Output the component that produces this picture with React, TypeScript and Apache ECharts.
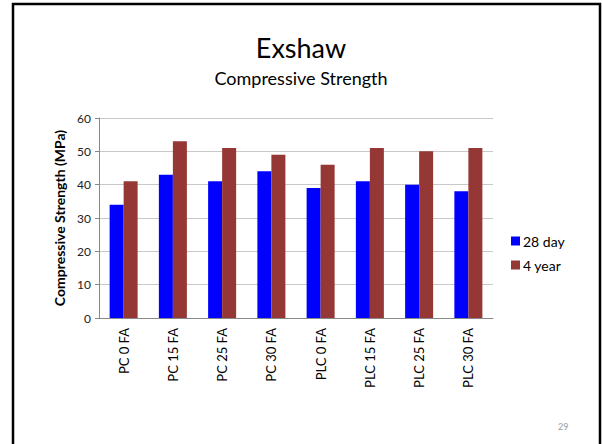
import React, { useEffect, useRef } from "react";
import * as echarts from "echarts";

const categories = ["PC 0 FA", "PC 15 FA", "PC 25 FA", "PC 30 FA", "PLC 0 FA", "PLC 15 FA", "PLC 25 FA", "PLC 30 FA"];
const day28 = [34, 43, 41, 44, 39, 41, 40, 38];
const year4 = [41, 53, 51, 49, 46, 51, 50, 51];
const seriesNames = ["28 day", "4 year"];
const yTicks = { min: 0, max: 60, interval: 10 };

export default function App() {
  const ref = useRef<HTMLDivElement>(null);
  useEffect(() => {
    if (!ref.current) return;
    const chart = echarts.init(ref.current, null, { renderer: "svg" });
    const font = "Lato, 'Open Sans', sans-serif";
    chart.setOption({
      animation: false,
      backgroundColor: "#ffffff",
      textStyle: { fontFamily: font },
      title: [
        {
          text: "Exshaw",
          left: "center",
          top: 29,
          textStyle: { fontFamily: font, fontSize: 27, fontWeight: "normal", color: "#000" },
        },
        {
          text: "Compressive Strength",
          left: "center",
          top: 64,
          textStyle: { fontFamily: font, fontSize: 18, fontWeight: "normal", color: "#000" },
        },
      ],
      graphic: [
        {
          type: "rect",
          shape: { x: 13, y: 4, width: 587, height: 460 },
          style: { fill: "none", stroke: "#000", lineWidth: 2.5 },
          silent: true,
        },
        {
          type: "text",
          left: 558,
          top: 422,
          style: { text: "29", fill: "#999", fontSize: 9, fontFamily: font },
        },
      ],
      legend: {
        orient: "vertical",
        left: 506,
        top: 229,
        itemWidth: 9,
        itemHeight: 9,
        itemGap: 10,
        icon: "rect",
        data: seriesNames,
        textStyle: { fontFamily: font, fontSize: 14, color: "#000", padding: [0, 0, 0, -2] },
      },
      grid: { left: 99, right: 109, top: 118, bottom: 126 },
      xAxis: {
        type: "category",
        data: categories,
        axisLine: { lineStyle: { color: "#888" } },
        axisTick: { show: false },
        axisLabel: { rotate: 90, fontSize: 13, color: "#000", margin: 10, fontFamily: font },
      },
      yAxis: {
        type: "value",
        min: yTicks.min,
        max: yTicks.max,
        interval: yTicks.interval,
        name: "Compressive Strength (MPa)",
        nameLocation: "middle",
        nameGap: 31,
        nameTextStyle: { fontSize: 14, fontWeight: "bold", color: "#000", fontFamily: font },
        axisLine: { show: true, lineStyle: { color: "#888" } },
        axisTick: { show: true, length: 4, lineStyle: { color: "#888" } },
        axisLabel: { fontSize: 12, color: "#222", margin: 8, fontFamily: font },
        splitLine: { lineStyle: { color: "#c8c8c8" } },
      },
      series: [
        {
          name: seriesNames[0],
          type: "bar",
          data: day28,
          barWidth: 14,
          barGap: "0%",
          itemStyle: { color: "#0000ff" },
        },
        {
          name: seriesNames[1],
          type: "bar",
          data: year4,
          barWidth: 14,
          itemStyle: { color: "#953735" },
        },
      ],
    });
    return () => chart.dispose();
  }, []);
  return <div ref={ref} style={{ width: 602, height: 444, position: "fixed", left: 0, top: 0 }} />;
}
